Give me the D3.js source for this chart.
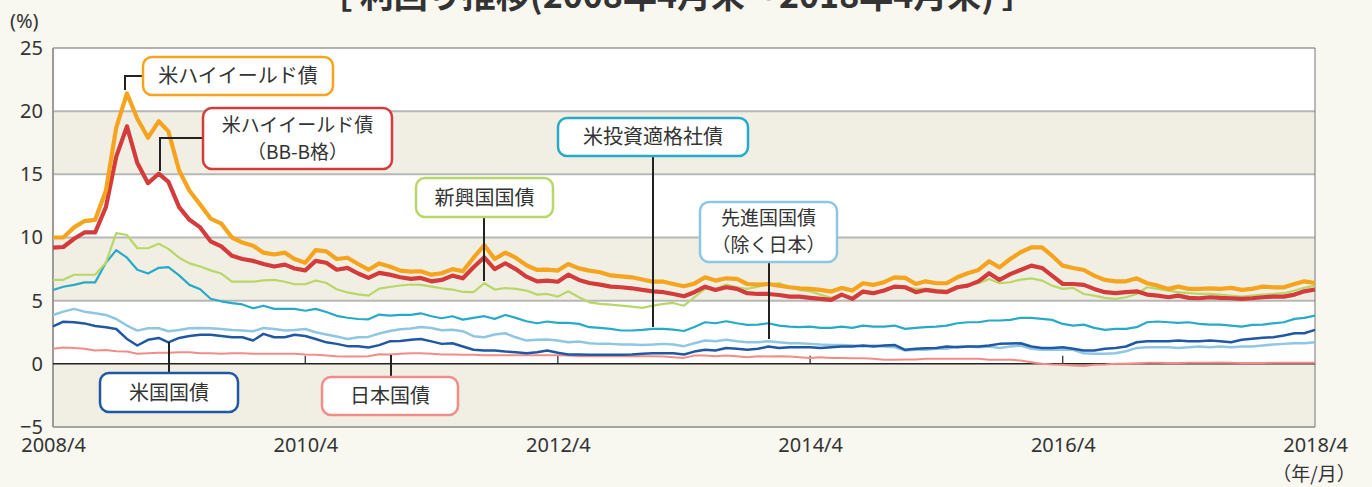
<!DOCTYPE html>
<html>
<head>
<meta charset="utf-8">
<script src="https://cdn.jsdelivr.net/npm/d3@7"></script>
<style>
  html, body { margin: 0; padding: 0; background: #f8f7f0; }
  svg { display: block; }
  text { font-family: "Noto Sans CJK JP", "Noto Sans", sans-serif; fill: #333; }
</style>
</head>
<body>
<div id="chart"></div>
<script>
// monthly month-end yields (%), 2008/4 .. 2018/4
var startMonth = new Date(2008, 3, 1);

var usHighYield = [10.0,10.0,10.8,11.3,11.4,13.7,18.7,21.4,19.4,17.9,19.2,18.4,15.3,13.7,12.6,11.5,11.1,10.0,9.6,9.35,
  8.8,8.65,8.8,8.3,8.0,9.0,8.9,8.3,8.4,7.9,7.45,7.95,7.7,7.38,7.3,7.33,7.06,7.17,7.5,7.33,
  8.4,9.4,8.3,8.8,8.4,7.8,7.43,7.46,7.38,7.9,7.56,7.38,7.25,7.0,6.93,6.85,6.67,6.5,6.5,6.32,
  6.14,6.35,6.85,6.59,6.77,6.72,6.32,6.27,6.32,6.19,6.06,5.98,5.93,5.85,5.72,6.01,5.8,6.38,6.25,6.46,
  6.85,6.8,6.32,6.53,6.38,6.38,6.85,7.17,7.43,8.12,7.64,8.3,8.83,9.22,9.22,8.56,7.77,7.59,7.43,6.98,
  6.64,6.53,6.53,6.77,6.38,6.19,5.93,6.11,5.93,5.93,5.98,5.93,6.01,5.85,5.93,6.11,6.06,6.06,6.32,6.53,6.4];

var usHighYieldBB = [9.2,9.25,9.9,10.4,10.4,12.4,16.4,18.8,15.9,14.3,15.05,14.4,12.4,11.4,10.8,9.7,9.3,8.55,8.3,8.15,
  7.9,7.7,7.85,7.55,7.4,8.15,8.0,7.45,7.6,7.15,6.8,7.2,7.06,6.85,6.72,6.8,6.53,6.64,6.98,6.77,
  7.64,8.43,7.5,7.96,7.5,6.9,6.53,6.58,6.5,7.06,6.64,6.4,6.27,6.11,6.06,5.98,5.85,5.74,5.67,5.53,
  5.35,5.67,6.11,5.85,6.06,5.93,5.59,5.53,5.53,5.45,5.32,5.32,5.22,5.14,5.06,5.48,5.14,5.72,5.59,5.8,
  6.11,6.06,5.67,5.85,5.74,5.67,6.06,6.19,6.53,7.17,6.64,7.1,7.43,7.77,7.59,6.98,6.32,6.32,6.25,5.93,
  5.67,5.59,5.67,5.74,5.48,5.4,5.27,5.4,5.22,5.19,5.27,5.22,5.19,5.14,5.19,5.27,5.32,5.32,5.48,5.74,5.88];

var emergingGov = [6.65,6.65,7.05,7.05,7.05,8.0,10.35,10.2,9.15,9.15,9.5,9.1,8.4,7.95,7.7,7.4,7.15,6.5,6.5,6.5,
  6.6,6.65,6.5,6.3,6.3,6.6,6.4,5.9,5.65,5.5,5.4,5.95,6.08,6.2,6.28,6.25,6.11,5.98,5.88,5.69,
  5.67,6.38,5.88,6.0,5.93,5.8,5.48,5.53,5.32,5.74,5.27,4.87,4.74,4.69,4.61,4.53,4.43,4.61,4.74,4.82,
  4.6,5.27,5.93,5.93,6.27,6.06,5.93,6.11,6.27,6.38,6.06,5.85,5.74,5.48,5.22,5.48,5.27,5.8,5.67,5.8,
  6.11,6.06,5.93,5.93,5.85,5.8,6.11,6.27,6.38,6.72,6.38,6.46,6.67,6.77,6.59,6.19,5.93,6.01,5.53,5.4,
  5.22,5.14,5.27,5.53,6.06,5.93,5.8,5.67,5.59,5.53,5.53,5.48,5.4,5.32,5.4,5.48,5.53,5.59,5.8,6.01,6.19];

var usInvGrade = [5.85,6.1,6.25,6.45,6.45,8.0,9.0,8.4,7.45,7.15,7.6,7.65,7.0,6.25,5.9,5.15,4.95,4.8,4.7,4.4,
  4.6,4.35,4.35,4.35,4.2,4.35,4.1,3.8,3.65,3.55,3.52,3.9,3.82,3.87,3.87,4.0,3.77,3.61,3.77,3.5,
  3.64,3.77,3.56,3.87,3.64,3.37,3.21,3.35,3.24,3.24,3.16,2.9,2.85,2.77,2.64,2.64,2.69,2.77,2.77,2.71,
  2.6,2.92,3.29,3.21,3.37,3.21,3.08,3.1,3.21,3.03,2.95,2.9,2.95,2.85,2.85,2.95,2.85,3.03,2.95,2.95,
  3.03,2.77,2.85,2.9,2.95,3.03,3.21,3.29,3.29,3.43,3.43,3.48,3.64,3.64,3.56,3.48,3.16,3.03,3.1,2.85,
  2.69,2.77,2.77,2.9,3.29,3.35,3.29,3.24,3.29,3.16,3.1,3.1,3.03,2.95,3.08,3.1,3.21,3.29,3.56,3.64,3.82];

var developedGov = [3.87,4.13,4.35,4.13,4.0,3.87,3.55,3.03,2.63,2.82,2.82,2.58,2.68,2.82,2.84,2.82,2.76,2.68,2.63,2.58,
  2.84,2.76,2.63,2.68,2.76,2.5,2.32,2.16,1.97,2.1,2.13,2.4,2.6,2.74,2.8,2.92,2.83,2.66,2.7,2.58,
  2.19,2.1,2.32,2.42,2.1,1.84,1.9,1.92,1.84,1.71,1.77,1.63,1.58,1.58,1.53,1.53,1.5,1.53,1.58,1.53,
  1.4,1.63,1.84,1.79,1.9,1.79,1.71,1.71,1.79,1.71,1.63,1.63,1.58,1.53,1.5,1.5,1.45,1.37,1.45,1.37,
  1.32,1.05,1.11,1.11,1.19,1.19,1.37,1.37,1.32,1.37,1.26,1.37,1.45,1.19,1.11,1.11,1.11,1.11,0.84,0.79,
  0.79,0.84,1.0,1.26,1.32,1.32,1.32,1.26,1.32,1.37,1.32,1.37,1.32,1.37,1.37,1.45,1.53,1.58,1.63,1.63,1.71];

var usTreasury = [2.97,3.34,3.3,3.2,3.0,2.9,2.76,1.97,1.45,1.9,2.05,1.7,2.05,2.2,2.3,2.3,2.2,2.1,2.1,1.85,
  2.37,2.1,2.1,2.3,2.2,1.97,1.7,1.58,1.4,1.4,1.3,1.48,1.78,1.8,1.9,1.97,1.78,1.58,1.63,1.37,
  1.11,1.05,1.05,0.97,0.92,0.84,0.92,1.05,0.87,0.74,0.74,0.71,0.71,0.71,0.71,0.74,0.79,0.84,0.84,0.84,
  0.74,0.97,1.11,1.05,1.26,1.19,1.11,1.19,1.37,1.26,1.32,1.32,1.32,1.26,1.32,1.37,1.37,1.45,1.37,1.45,
  1.5,1.11,1.19,1.24,1.26,1.37,1.32,1.37,1.37,1.45,1.58,1.6,1.63,1.37,1.26,1.26,1.32,1.19,1.05,1.05,
  1.19,1.26,1.37,1.71,1.79,1.79,1.79,1.84,1.79,1.79,1.84,1.79,1.71,1.9,1.98,2.06,2.1,2.24,2.42,2.42,2.69];

var japanGov = [1.2,1.3,1.25,1.2,1.05,1.1,1.0,0.97,0.8,0.84,0.87,0.87,0.92,0.92,0.84,0.84,0.8,0.84,0.84,0.8,
  0.8,0.8,0.8,0.8,0.74,0.71,0.66,0.6,0.58,0.58,0.6,0.75,0.74,0.8,0.84,0.84,0.8,0.74,0.74,0.71,
  0.71,0.68,0.68,0.68,0.68,0.68,0.68,0.68,0.68,0.66,0.6,0.6,0.6,0.6,0.6,0.6,0.6,0.6,0.58,0.53,
  0.47,0.66,0.66,0.6,0.66,0.6,0.53,0.6,0.58,0.6,0.58,0.53,0.47,0.53,0.47,0.47,0.45,0.45,0.4,0.32,
  0.32,0.34,0.34,0.4,0.4,0.4,0.4,0.4,0.4,0.32,0.32,0.32,0.26,0.13,0.0,-0.05,-0.08,-0.13,-0.18,-0.08,
  -0.05,0.0,0.0,0.05,0.08,0.08,0.06,0.06,0.08,0.08,0.08,0.1,0.08,0.06,0.06,0.06,0.08,0.08,0.08,0.08,0.08];

var yTicks = [-5, 0, 5, 10, 15, 20, 25];
var xTickLabels = ["2008/4", "2010/4", "2012/4", "2014/4", "2016/4", "2018/4"];

var width = 1372, height = 487;
var margin = {top: 48, right: 57, bottom: 60, left: 53};

var svg = d3.select("#chart").append("svg")
  .attr("width", width)
  .attr("height", height);

svg.append("rect").attr("width", width).attr("height", height).attr("fill", "#f8f7f0");

var months = d3.range(usHighYield.length).map(function(i) { return d3.timeMonth.offset(startMonth, i); });
var tickDates = xTickLabels.map(function(s) {
  var p = s.split("/");
  return new Date(+p[0], +p[1] - 1, 1);
});

var x = d3.scaleTime()
  .domain([months[0], months[months.length - 1]])
  .range([margin.left, width - margin.right]);

var y = d3.scaleLinear()
  .domain([-5, 25])
  .range([height - margin.bottom, margin.top]);

// alternating bands
var bands = d3.range(-5, 25, 5);
svg.selectAll(".band").data(bands).enter().append("rect")
  .attr("x", x.range()[0])
  .attr("width", x.range()[1] - x.range()[0])
  .attr("y", function(d) { return y(d + 5); })
  .attr("height", function(d) { return y(d) - y(d + 5); })
  .attr("fill", function(d) { return (d / 5) % 2 === 0 ? "#ffffff" : "#f1efe3"; });

// grid lines
svg.selectAll(".grid").data([5, 10, 15, 20]).enter().append("line")
  .attr("x1", x.range()[0]).attr("x2", x.range()[1])
  .attr("y1", function(d) { return y(d); }).attr("y2", function(d) { return y(d); })
  .attr("stroke", "#b7b7b7").attr("stroke-width", 2);

// frame
svg.append("line").attr("x1", x.range()[0]).attr("x2", x.range()[1])
  .attr("y1", y(25)).attr("y2", y(25)).attr("stroke", "#9a9a9a").attr("stroke-width", 1.5);
svg.append("line").attr("x1", x.range()[0]).attr("x2", x.range()[1])
  .attr("y1", y(-5)).attr("y2", y(-5)).attr("stroke", "#8a8a8a").attr("stroke-width", 1.5);
svg.append("line").attr("x1", x.range()[0]).attr("x2", x.range()[0])
  .attr("y1", y(25)).attr("y2", y(-5)).attr("stroke", "#9a9a9a").attr("stroke-width", 2);
svg.append("line").attr("x1", x.range()[1]).attr("x2", x.range()[1])
  .attr("y1", y(25)).attr("y2", y(-5)).attr("stroke", "#777").attr("stroke-width", 1);

// zero line with small ticks
svg.append("line").attr("x1", x.range()[0]).attr("x2", x.range()[1])
  .attr("y1", y(0)).attr("y2", y(0)).attr("stroke", "#222").attr("stroke-width", 1.5);
svg.selectAll(".ztick").data(tickDates.slice(1, -1)).enter().append("line")
  .attr("x1", function(d) { return x(d); }).attr("x2", function(d) { return x(d); })
  .attr("y1", y(0)).attr("y2", y(0) - 8)
  .attr("stroke", "#222").attr("stroke-width", 1.2);

// series
var series = [
  {values: japanGov, color: "#f28c88", w: 2},
  {values: developedGov, color: "#8ec6e3", w: 2.5},
  {values: usTreasury, color: "#2158a4", w: 2.5},
  {values: usInvGrade, color: "#27aac8", w: 2.2},
  {values: emergingGov, color: "#b8d769", w: 2.2},
  {values: usHighYieldBB, color: "#d43c3b", w: 4.2},
  {values: usHighYield, color: "#f6a31d", w: 4.2}
];

var line = d3.line()
  .x(function(d, i) { return x(months[i]); })
  .y(function(d) { return y(d); });

svg.selectAll(".series").data(series).enter().append("path")
  .attr("d", function(d) { return line(d.values); })
  .attr("fill", "none")
  .attr("stroke", function(d) { return d.color; })
  .attr("stroke-width", function(d) { return d.w; })
  .attr("stroke-linejoin", "round");

// y axis labels
var yAxis = svg.append("g")
  .attr("transform", "translate(" + (x.range()[0] - 10) + ",0)")
  .call(d3.axisLeft(y).tickValues(yTicks).tickSize(0).tickPadding(0));
yAxis.select(".domain").remove();
yAxis.selectAll("text").style("font-size", "20px").attr("fill", "#333")
  .style("font-family", "'Noto Sans', sans-serif");

// x axis labels
var xAxis = svg.append("g")
  .attr("transform", "translate(0," + y(-5) + ")")
  .call(d3.axisBottom(x).tickValues(tickDates)
    .tickFormat(function(d, i) { return xTickLabels[i]; })
    .tickSize(0).tickPadding(11));
xAxis.select(".domain").remove();
xAxis.selectAll("text").style("font-size", "20px").attr("fill", "#333")
  .style("font-family", "'Noto Sans', sans-serif");

svg.append("text").attr("x", 10).attr("y", 28)
  .style("font-size", "20px").style("font-family", "'Noto Sans', sans-serif").text("(%)");
svg.append("text").attr("x", 1314).attr("y", 481).attr("text-anchor", "middle")
  .style("font-size", "19px").text("（年/月）");

// title (cut off at the top edge)
svg.append("text").attr("x", 677).attr("y", 8).attr("text-anchor", "middle")
  .style("font-size", "34px").style("font-weight", "bold").attr("fill", "#3d4a56")
  .text("［ 利回り推移(2008年4月末～2018年4月末) ］");

// callout labels
var callouts = [
  {lines: ["米ハイイールド債"], color: "#f6a31d", box: [143, 57, 190, 38],
    path: [[143, 76], [125, 76], [125, 90]]},
  {lines: ["米ハイイールド債", "（BB-B格）"], color: "#d43c3b", box: [203, 108, 189, 61],
    path: [[203, 138], [160, 138], [160, 171]]},
  {lines: ["新興国国債"], color: "#b8d769", box: [416, 178, 137, 39],
    path: [[484, 217], [484, 281]]},
  {lines: ["米投資適格社債"], color: "#27aac8", box: [558, 118, 190, 38],
    path: [[653, 156], [653, 327]]},
  {lines: ["先進国国債", "（除く日本）"], color: "#8ec6e3", box: [700, 202, 137, 60],
    path: [[769, 262], [769, 339]]},
  {lines: ["米国国債"], color: "#2158a4", box: [100, 373, 138, 39],
    path: [[169, 342], [169, 373]]},
  {lines: ["日本国債"], color: "#f28c88", box: [322, 377, 136, 38],
    path: [[391, 355], [391, 377]]}
];

var c = svg.selectAll(".callout").data(callouts).enter().append("g");

c.append("path")
  .attr("d", function(d) { return d3.line()(d.path); })
  .attr("fill", "none").attr("stroke", "#222").attr("stroke-width", 2);

c.append("rect")
  .attr("x", function(d) { return d.box[0]; })
  .attr("y", function(d) { return d.box[1]; })
  .attr("width", function(d) { return d.box[2]; })
  .attr("height", function(d) { return d.box[3]; })
  .attr("rx", 9)
  .attr("fill", "#fff")
  .attr("stroke", function(d) { return d.color; })
  .attr("stroke-width", 2.5);

c.each(function(d) {
  var g = d3.select(this);
  var n = d.lines.length;
  d.lines.forEach(function(t, i) {
    g.append("text")
      .attr("x", d.box[0] + d.box[2] / 2)
      .attr("y", d.box[1] + d.box[3] / 2 + (i - (n - 1) / 2) * 27)
      .attr("dy", "0.35em")
      .attr("text-anchor", "middle")
      .style("font-size", n > 1 ? "19px" : "20px")
      .text(t);
  });
});
</script>
</body>
</html>
